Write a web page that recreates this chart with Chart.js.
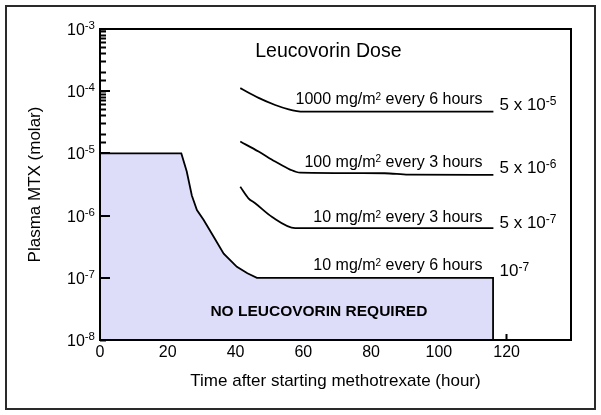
<!DOCTYPE html>
<html><head><meta charset="utf-8">
<script src="https://cdn.jsdelivr.net/npm/chart.js@4"></script>
<style>html,body{margin:0;padding:0;background:#fff}#wrap{width:601px;height:415px}</style>
</head><body><div id="wrap"><canvas id="c" width="601" height="415"></canvas></div>
<script>
const FF = '"Liberation Sans", Arial, Helvetica, sans-serif';

// ---- data (hours, molar) ----
const boundaryHours = [0, 24, 25.6, 27.1, 28.6, 30.6, 33.5, 36.5, 40.4, 43.5, 46.3, 50, 116, 116];
const boundaryMolar = [1e-5, 1e-5, 5.1e-6, 2.1e-6, 1.23e-6, 8.5e-7, 4.6e-7, 2.45e-7, 1.5e-7, 1.18e-7, 1.0e-7, 1.0e-7, 1.0e-7, 1e-8];

const dose1000Hours = [41.4, 46.8, 51.7, 55.7, 58.1, 60, 116.1];
const dose1000Molar = [1.12e-4, 7.8e-5, 6.0e-5, 5.1e-5, 4.8e-5, 4.7e-5, 4.7e-5];

const dose100Hours = [41.4, 46.8, 51.7, 56.1, 59.1, 84, 91, 116.1];
const dose100Molar = [1.55e-5, 1.07e-5, 7.4e-6, 5.5e-6, 4.9e-6, 4.8e-6, 4.55e-6, 4.5e-6];

const dose10Hours = [41.4, 43.8, 45.8, 50.8, 57.6, 116.1];
const dose10Molar = [2.9e-6, 1.9e-6, 1.58e-6, 9.5e-7, 6.3e-7, 6.3e-7];

const xTickValues = [0, 20, 40, 60, 80, 100, 120];
const yTickExponents = [-8, -7, -6, -5, -4, -3];
const yTickLabels = ['10⁻⁸', '10⁻⁷', '10⁻⁶', '10⁻⁵', '10⁻⁴', '10⁻³'];

const regimenLabels = ['1000 mg/m² every 6 hours', '100 mg/m² every 3 hours', '10 mg/m² every 3 hours', '10 mg/m² every 6 hours'];
const thresholdLabels = ['5 x 10⁻⁵', '5 x 10⁻⁶', '5 x 10⁻⁷', '10⁻⁷'];
const titleText = 'Leucovorin Dose';
const regionText = 'NO LEUCOVORIN REQUIRED';

// ---- annotation anchors (data coords) ----
const regimenAnchorHour = 112.9;
const regimenAnchorMolar = [10 ** -4.21, 10 ** -5.214, 10 ** -6.108, 10 ** -6.875];
const thresholdAnchorHour = 117.9;
const thresholdAnchorMolar = [10 ** -4.30, 10 ** -5.32, 10 ** -6.205, 10 ** -6.97];

const SUP = {'⁰':'0','¹':'1','²':'2','³':'3','⁴':'4','⁵':'5','⁶':'6','⁷':'7','⁸':'8','⁹':'9','⁻':'-'};

function runs(str){
  const out=[]; let cur=null;
  for (const ch of str){
    const s = ch in SUP;
    if (!cur || cur.sup!==s){ cur={sup:s,text:''}; out.push(cur); }
    cur.text += s ? SUP[ch] : ch;
  }
  return out;
}
function richWidth(ctx, str, size, supSize){
  let w=0;
  for (const r of runs(str)){ ctx.font=(r.sup?supSize:size)+'px '+FF; w+=ctx.measureText(r.text).width; }
  return w;
}
function drawRich(ctx, str, x, y, size, supSize, rise, align){
  const w = richWidth(ctx, str, size, supSize);
  let cx = align==='right' ? x-w : align==='center' ? x-w/2 : x;
  ctx.textAlign='left'; ctx.textBaseline='alphabetic';
  for (const r of runs(str)){
    ctx.font=(r.sup?supSize:size)+'px '+FF;
    ctx.fillText(r.text, cx, r.sup? y-rise : y);
    cx += ctx.measureText(r.text).width;
  }
}
const pts = (xs, ys) => xs.map((x,i)=>({x, y: ys[i]}));

const decor = {
  id:'decor',
  beforeDraw(chart){
    const c=chart.ctx; c.save(); c.fillStyle='#fff'; c.fillRect(0,0,chart.width,chart.height); c.restore();
  },
  afterDraw(chart){
    const c=chart.ctx, a=chart.chartArea, xs=chart.scales.x, ys=chart.scales.y;
    c.save();
    c.fillStyle='#000';
    c.strokeStyle='#000';
    c.lineWidth=2;
    c.strokeRect(a.left, a.top, a.right-a.left, a.bottom-a.top);
    // longer major ticks on the y axis
    yTickExponents.forEach((e)=>{
      const py = Math.round(ys.getPixelForValue(Math.pow(10,e)));
      c.fillRect(a.left, py-1, 10, 2);
    });
    yTickExponents.forEach((e,i)=>{
      drawRich(c, yTickLabels[i], a.left-5, Math.round(ys.getPixelForValue(Math.pow(10,e)))+6, 16, 11.5, 6.5, 'right');
    });
    drawRich(c, titleText, xs.getPixelForValue(67.4), ys.getPixelForValue(10 ** -3.445), 19.5, 12, 7, 'center');
    regimenLabels.forEach((t,i)=>{
      drawRich(c, t, xs.getPixelForValue(regimenAnchorHour), ys.getPixelForValue(regimenAnchorMolar[i]), 16, 10, 4.5, 'right');
    });
    thresholdLabels.forEach((t,i)=>{
      drawRich(c, t, xs.getPixelForValue(thresholdAnchorHour), ys.getPixelForValue(thresholdAnchorMolar[i]), 17, 12, 5, 'left');
    });
    c.font='bold 15.5px '+FF; c.textAlign='center'; c.textBaseline='alphabetic';
    c.fillText(regionText, xs.getPixelForValue(64.6), ys.getPixelForValue(10 ** -7.614));
    c.strokeStyle='#2a2a2a'; c.lineWidth=2; c.strokeRect(6,6,589,403);
    c.restore();
  }
};

const lineStyle = {borderColor:'#000', borderWidth:1.8, pointRadius:0, fill:false, cubicInterpolationMode:'monotone'};

new Chart(document.getElementById('c').getContext('2d'), {
  type:'line',
  data:{datasets:[
    {label:'No leucovorin region', data:pts(boundaryHours, boundaryMolar), borderColor:'#000', borderWidth:1.8, pointRadius:0, tension:0, fill:'start', backgroundColor:'rgb(221,221,250)'},
    {label:'1000 mg/m2 q6h', data:pts(dose1000Hours, dose1000Molar), ...lineStyle},
    {label:'100 mg/m2 q3h', data:pts(dose100Hours, dose100Molar), ...lineStyle},
    {label:'10 mg/m2 q3h', data:pts(dose10Hours, dose10Molar), ...lineStyle}
  ]},
  options:{
    responsive:false, animation:false, devicePixelRatio:1,
    layout:{padding:{top:29, right:30, left:0, bottom:0}},
    plugins:{legend:{display:false}, tooltip:{enabled:false}},
    scales:{
      x:{type:'linear', min:0, max:139,
        afterFit(s){ s.height=75; },
        grid:{display:true, drawOnChartArea:false, drawTicks:true, tickLength:-6, tickColor:'#000', tickWidth:2}, border:{display:false},
        ticks:{stepSize:20, includeBounds:false, autoSkip:false, maxRotation:0, padding:9, color:'#000', font:{family:FF, size:16},
          callback:(v)=> xTickValues.includes(v) ? String(v) : ''},
        title:{display:true, text:'Time after starting methotrexate (hour)', color:'#000', font:{family:FF, size:17}, padding:{top:0, bottom:23}}
      },
      y:{type:'logarithmic', min:1e-8, max:1e-3,
        afterFit(s){ s.width=100; },
        grid:{display:true, drawOnChartArea:false, drawTicks:true, tickLength:-6, tickColor:'#000', tickWidth:2}, border:{display:false},
        ticks:{autoSkip:false, padding:5, color:'#000', font:{family:FF, size:16}, callback:()=>''},
        title:{display:true, text:'Plasma MTX (molar)', color:'#000', font:{family:FF, size:17}, padding:{top:25, bottom:0}}
      }
    }
  },
  plugins:[decor]
});
</script></body></html>
